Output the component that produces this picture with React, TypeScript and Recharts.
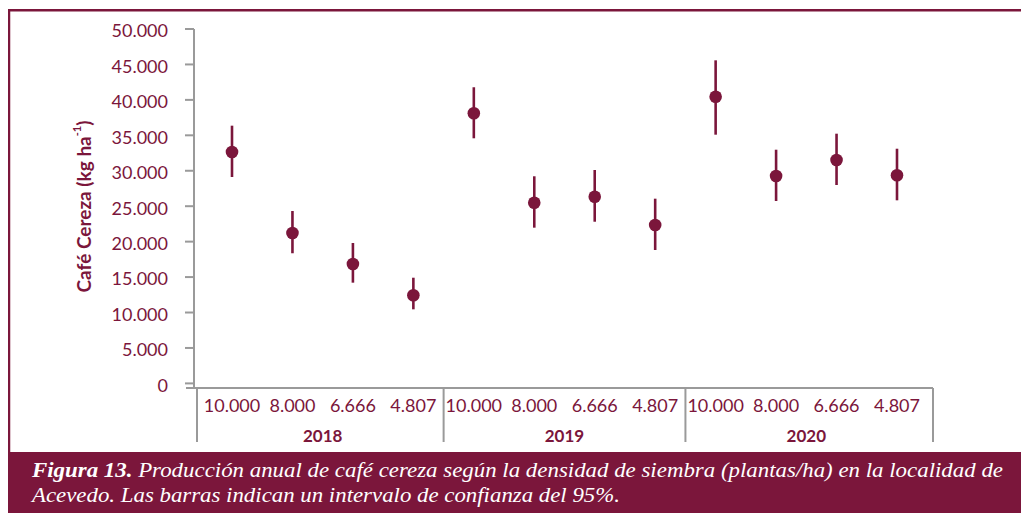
import React from 'react';
import { ComposedChart, Line, XAxis, YAxis, ErrorBar } from 'recharts';

// Planting densities (plants/ha) repeated inside each year group
const years = ['2018', '2019', '2020'];
const densities = ['10.000', '8.000', '6.666', '4.807'];

// Mean yield and 95% confidence limits (kg/ha) per density
const mean2018 = [32650, 21220, 16850, 12430];
const low2018 = [29120, 18360, 14210, 10450];
const high2018 = [36360, 24320, 19810, 14910];

const mean2019 = [38110, 25490, 26340, 22350];
const low2019 = [34580, 21970, 22810, 18820];
const high2019 = [41780, 29220, 30110, 26060];

const mean2020 = [40450, 29260, 31520, 29360];
const low2020 = [35090, 25730, 27990, 25830];
const high2020 = [45580, 32970, 35230, 33110];

const yTicks = [0, 5000, 10000, 15000, 20000, 25000, 30000, 35000, 40000, 45000, 50000];

const MAROON = '#7b163b';
const GRAY = '#9a9a9a';
const FONT = 'Lato, "Open Sans", sans-serif';

const byYear = [
  { mean: mean2018, low: low2018, high: high2018 },
  { mean: mean2019, low: low2019, high: high2019 },
  { mean: mean2020, low: low2020, high: high2020 },
];

const data = years.flatMap((year, yi) =>
  densities.map((d, di) => {
    const m = byYear[yi].mean[di];
    return {
      key: `${year}|${d}`,
      year,
      density: d,
      mean: m,
      err: [m - byYear[yi].low[di], byYear[yi].high[di] - m],
    };
  })
);

const fmt = (v: number) => String(v).replace(/\B(?=(\d{3})+(?!\d))/g, '.');

// Density label under each point, plus year brackets and year names
const XTick = (props: any) => {
  const { x, y, index } = props;
  const row = data[index];
  if (!row) return null;
  const pos = index % densities.length;
  const half = 30.2;
  const parts: React.ReactNode[] = [];
  parts.push(
    <text key="t" x={x} y={y + 24} textAnchor="middle" fill={MAROON} fontSize={18} fontFamily={FONT}>
      {row.density}
    </text>
  );
  if (index === 0) {
    parts.push(<line key="a" x1={x - 46} x2={x - 37} y1={y} y2={y} stroke={GRAY} strokeWidth={2} />);
  }
  if (pos === 0) {
    const sx = index === 0 ? x - 35 : x - half;
    parts.push(<line key="s" x1={sx} x2={sx} y1={y} y2={y + 54} stroke={GRAY} strokeWidth={2} />);
  }
  if (index === data.length - 1) {
    const sx = x + 36;
    parts.push(<line key="e" x1={sx} x2={sx} y1={y} y2={y + 54} stroke={GRAY} strokeWidth={2} />);
  }
  if (pos === 1) {
    parts.push(
      <text key="y" x={x + half} y={y + 53.5} textAnchor="middle" fill={MAROON} fontSize={17} fontWeight={700} fontFamily={FONT}>
        {row.year}
      </text>
    );
  }
  return <g>{parts}</g>;
};

const YLabel = (props: any) => {
  const vb = props.viewBox || {};
  const cx = vb.x + 1;
  const cy = vb.y + vb.height / 2 - 2;
  return (
    <text
      x={cx}
      y={cy}
      transform={`rotate(-90 ${cx} ${cy})`}
      textAnchor="middle"
      dominantBaseline="central"
      fill={MAROON}
      fontSize={19}
      fontWeight={700}
      fontFamily={FONT}
    >
      Café Cereza (kg ha
      <tspan fontSize={11} dy={-7}>-1</tspan>
      <tspan dy={7}>)</tspan>
    </text>
  );
};

export default function App() {
  return (
    <div style={{ position: 'relative', width: 1021, height: 505 }}>
      <svg width={1021} height={505} style={{ position: 'absolute', left: 0, top: 0 }}>
        <line x1={0} x2={1021} y1={2.2} y2={2.2} stroke={MAROON} strokeWidth={2.5} />
        <line x1={1} x2={1} y1={1} y2={445} stroke={MAROON} strokeWidth={2.5} />
        <rect x={0} y={444} width={1021} height={61} fill={MAROON} />
        <text
          x={24}
          y={468.5}
          fill="#ffffff"
          fontSize={21}
          fontStyle="italic"
          fontFamily='"Liberation Serif", "DejaVu Serif", serif'
          textLength={971}
          lengthAdjust="spacingAndGlyphs"
        >
          <tspan fontWeight={700}>Figura 13.</tspan> Producción anual de café cereza según la densidad de siembra (plantas/ha) en la localidad de
        </text>
        <text
          x={24}
          y={493.5}
          fill="#ffffff"
          fontSize={21}
          fontStyle="italic"
          fontFamily='"Liberation Serif", "DejaVu Serif", serif'
          textLength={588}
          lengthAdjust="spacingAndGlyphs"
        >
          Acevedo. Las barras indican un intervalo de confianza del 95%.
        </text>
      </svg>
      <div style={{ position: 'absolute', left: 0, top: 0 }}>
        <ComposedChart
          width={1021}
          height={505}
          data={data}
          margin={{ top: 21, right: 96, bottom: 65, left: 74 }}
        >
          <XAxis
            dataKey="key"
            type="category"
            interval={0}
            height={60}
            padding={{ left: 38, right: 36 }}
            axisLine={{ stroke: GRAY, strokeWidth: 2 }}
            tickLine={false}
            tickSize={0}
            tickMargin={0}
            tick={<XTick />}
          />
          <YAxis
            type="number"
            width={112}
            domain={[-650, 50000]}
            ticks={yTicks}
            interval={0}
            allowDataOverflow
            tickFormatter={fmt}
            axisLine={{ stroke: GRAY, strokeWidth: 2 }}
            tickLine={{ stroke: GRAY, strokeWidth: 2 }}
            tickSize={9}
            tickMargin={17}
            tick={{ fill: MAROON, fontSize: 18, fontFamily: FONT, dy: 2 }}
            label={{ content: <YLabel /> }}
          />
          <Line
            dataKey="mean"
            stroke="none"
            isAnimationActive={false}
            dot={{ r: 6.3, fill: MAROON, stroke: 'none' }}
            activeDot={false}
          >
            <ErrorBar dataKey="err" direction="y" width={0} stroke={MAROON} strokeWidth={2.6} isAnimationActive={false} />
          </Line>
        </ComposedChart>
      </div>
    </div>
  );
}
